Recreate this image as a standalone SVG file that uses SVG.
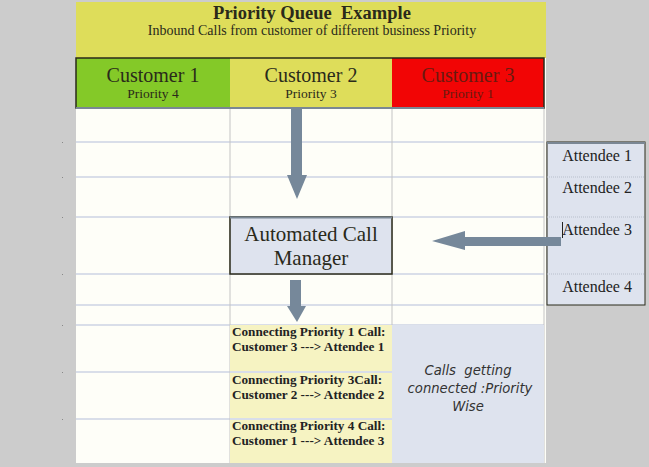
<svg xmlns="http://www.w3.org/2000/svg" width="649" height="467" viewBox="0 0 649 467">
<style>
.serif{font-family:"Liberation Serif","Times New Roman",serif;fill:#2a2a1a;white-space:pre}
.hl{stroke:#d9dee9;stroke-width:2}
.vl{stroke:#c4c4c4;stroke-width:1}
.bold{font-family:"Liberation Serif",serif;font-weight:bold;font-size:13.2px;fill:#222}
.att{font-family:"Liberation Serif",serif;font-size:16px;fill:#222;text-anchor:middle}
.it{font-family:"DejaVu Sans",sans-serif;font-style:italic;font-size:13.2px;fill:#333;text-anchor:middle;white-space:pre}
.arrow{fill:#76889a}
.dot{fill:#888}
</style>
<rect x="0" y="0" width="649" height="467" fill="#cccccc"/>
<rect x="76" y="58" width="470" height="405" fill="#fefef8"/>
<rect x="76" y="2" width="470" height="56" fill="#dedd5a"/>
<g id="header">
<text class="serif" x="312" y="19" font-size="18.5" font-weight="bold" text-anchor="middle" xml:space="preserve">Priority Queue  Example</text>
<text class="serif" x="312" y="35" font-size="14" text-anchor="middle">Inbound Calls from customer of different business Priority</text>
</g>
<g id="grid">
<line class="hl" x1="76" y1="142" x2="544" y2="142"/>
<line class="hl" x1="76" y1="177" x2="544" y2="177"/>
<line class="hl" x1="76" y1="217" x2="544" y2="217"/>
<line class="hl" x1="76" y1="274" x2="544" y2="274"/>
<line class="hl" x1="76" y1="305" x2="544" y2="305"/>
<line class="hl" x1="76" y1="325" x2="544" y2="325"/>
<line class="hl" x1="76" y1="372" x2="544" y2="372"/>
<line class="hl" x1="76" y1="419" x2="544" y2="419"/>
<line class="vl" x1="230" y1="108" x2="230" y2="463"/>
<line class="vl" x1="392" y1="108" x2="392" y2="463"/>
<line class="vl" x1="544" y1="108" x2="544" y2="463"/>
<rect class="dot" x="62" y="142" width="1" height="1"/>
<rect class="dot" x="62" y="177" width="1" height="1"/>
<rect class="dot" x="62" y="217" width="1" height="1"/>
<rect class="dot" x="62" y="274" width="1" height="1"/>
<rect class="dot" x="62" y="325" width="1" height="1"/>
<rect class="dot" x="62" y="372" width="1" height="1"/>
<rect class="dot" x="62" y="419" width="1" height="1"/>
</g>
<g id="customer1">
<rect x="76" y="58" width="154" height="50" fill="#84c928"/>
<text class="serif" x="153" y="82" font-size="20" text-anchor="middle">Customer 1</text>
<text class="serif" x="153" y="98" font-size="13.5" text-anchor="middle">Priority 4</text>
</g>
<g id="customer2">
<rect x="230" y="58" width="162" height="50" fill="#dedd5a"/>
<text class="serif" x="311" y="82" font-size="20" text-anchor="middle">Customer 2</text>
<text class="serif" x="311" y="98" font-size="13.5" text-anchor="middle">Priority 3</text>
</g>
<g id="customer3">
<rect x="392" y="58" width="152" height="50" fill="#f20505"/>
<text class="serif" x="468" y="82" font-size="20" text-anchor="middle" style="fill:#6a1a10">Customer 3</text>
<text class="serif" x="468" y="98" font-size="13.5" text-anchor="middle" style="fill:#6a1a10">Priority 1</text>
</g>
<rect x="76" y="58" width="468" height="50" fill="none" stroke="#2a2a1a" stroke-width="1.5"/>
<line x1="76" y1="108" x2="544" y2="108" stroke="#7a8794" stroke-width="2"/>
<g id="manager">
<rect x="230" y="217" width="162" height="57" fill="#dee3ee" stroke="#2a2a1a" stroke-width="1.5"/>
<line x1="230" y1="217.5" x2="392" y2="217.5" stroke="#7a8794" stroke-width="2"/>
<text class="serif" x="311" y="241" font-size="21" text-anchor="middle">Automated Call</text>
<text class="serif" x="311" y="265" font-size="21" text-anchor="middle">Manager</text>
</g>
<g id="attendees">
<rect x="547" y="142" width="98" height="163" fill="#dee3ee" stroke="#2a2a1a" stroke-width="1"/>
<line x1="547" y1="143" x2="645" y2="143" stroke="#7a8794" stroke-width="2"/>
<line x1="547" y1="177" x2="645" y2="177" stroke="#b8bfcc" stroke-dasharray="1 1"/>
<line x1="547" y1="217" x2="645" y2="217" stroke="#b8bfcc" stroke-dasharray="1 1"/>
<line x1="547" y1="274" x2="645" y2="274" stroke="#b8bfcc" stroke-dasharray="1 1"/>
<text class="att" x="597" y="161">Attendee 1</text>
<text class="att" x="597" y="193">Attendee 2</text>
<text class="att" x="597" y="235">Attendee 3</text>
<text class="att" x="597" y="292">Attendee 4</text>
<line x1="562.5" y1="222" x2="562.5" y2="238" stroke="#222" stroke-width="1"/>
</g>
<g id="connecting">
<rect x="230" y="325" width="162" height="138" fill="#f6f3c2"/>
<line class="hl" x1="230" y1="372" x2="392" y2="372"/>
<line class="hl" x1="230" y1="419" x2="392" y2="419"/>
<text class="bold" x="232" y="336">Connecting Priority 1 Call:</text>
<text class="bold" x="232" y="351">Customer 3 ---&gt; Attendee 1</text>
<text class="bold" x="232" y="384">Connecting Priority 3Call:</text>
<text class="bold" x="232" y="399">Customer 2 ---&gt; Attendee 2</text>
<text class="bold" x="232" y="430">Connecting Priority 4 Call:</text>
<text class="bold" x="232" y="445">Customer 1 ---&gt; Attendee 3</text>
</g>
<g id="summary">
<rect x="392" y="325" width="152" height="138" fill="#dee3ee"/>
<text class="it" x="468" y="375" xml:space="preserve">Calls  getting</text>
<text class="it" x="470" y="393">connected :Priority</text>
<text class="it" x="468" y="411">Wise</text>
</g>
<g id="connectors">
<polygon class="arrow" points="291,108 302,108 302,175 307,175 297,199 287,175 291,175"/>
<polygon class="arrow" points="561,237 465,237 465,231 432,241 465,250 465,246 561,246"/>
<polygon class="arrow" points="290,280 301,280 301,306 306,306 297,322 287,306 290,306"/>
</g>
</svg>
